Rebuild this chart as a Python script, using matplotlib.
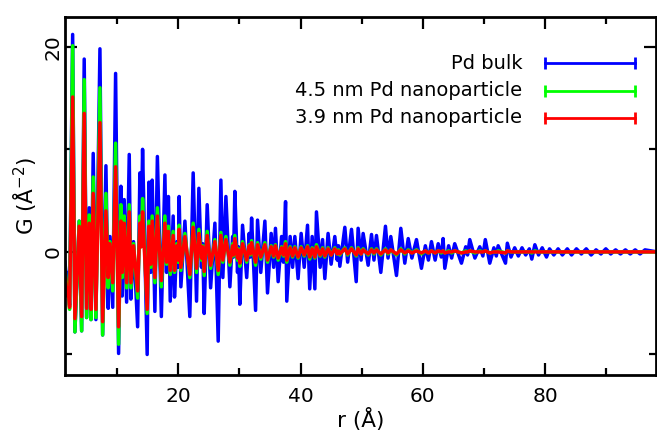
import matplotlib
matplotlib.use("Agg")
import matplotlib.pyplot as plt
from matplotlib.ticker import FixedLocator

# r positions (Å) of the read-off extrema, shared by the three curves
R = [
    1.50, 1.85, 2.00, 2.25, 2.75, 3.12, 3.82, 4.22, 4.64, 5.03,
    5.46, 5.75, 6.11, 6.55, 7.21, 7.65, 8.19, 8.56, 8.84, 9.30,
    9.77, 10.26, 10.64, 10.85, 11.18, 11.57, 12.00, 12.27, 12.70, 13.37,
    13.74, 13.95, 14.18, 14.93, 15.21, 15.50, 15.75, 16.19, 16.60, 17.25,
    17.83, 18.10, 18.40, 18.70, 19.18, 19.40, 19.80, 20.00, 20.16, 20.44,
    21.10, 21.90, 22.45, 23.00, 23.38, 23.80, 24.00, 24.25, 24.74, 25.30,
    26.00, 26.54, 26.98, 27.30, 27.80, 28.45, 28.90, 29.05, 29.26, 29.70,
    29.85, 30.08, 30.52, 31.20, 31.60, 31.80, 32.00, 32.65, 32.97, 33.50,
    34.17, 34.60, 35.20, 35.60, 35.90, 36.34, 36.90, 37.20, 37.55, 37.75,
    38.30, 38.70, 39.07, 39.60, 40.10, 40.60, 41.14, 41.50, 41.90, 42.34,
    42.60, 43.20, 43.60, 43.97, 44.50, 45.00, 45.60, 46.00, 46.20, 46.42,
    47.24, 47.70, 48.33, 49.10, 49.41, 49.90, 50.23, 51.05, 51.60, 52.00,
    52.41, 53.12, 53.88, 54.30, 54.75, 55.68, 56.39, 57.04, 57.60, 58.20,
    58.95, 59.76, 60.40, 60.90, 61.40, 62.00, 62.50, 63.00, 63.30, 63.58,
    64.20, 64.70, 65.20, 66.30, 67.00, 67.30, 67.66, 68.50, 69.30, 69.80,
    70.20, 70.93, 71.60, 72.00, 72.30, 73.50, 73.80, 74.40, 75.00, 75.60,
    76.20, 76.80, 77.40, 77.80, 78.30, 78.90, 79.50, 80.20, 80.70, 81.40,
    82.10, 82.80, 83.60, 84.30, 85.10, 85.90, 86.70, 87.50, 88.30, 89.10,
    89.90, 90.70, 91.50, 92.30, 93.10, 93.90, 94.70, 95.50, 96.30, 98.30,
]

G_BULK = [
    -1.0, -3.5, -2.0, -5.2, 21.2, -7.8, 3.0, -7.7, 18.8, -6.4,
    4.3, -6.6, 9.6, -6.6, 19.8, -8.1, 8.4, -5.5, 1.5, -5.4,
    17.4, -9.9, 6.4, -4.3, 5.1, -4.9, 9.5, -4.6, 1.0, -7.3,
    7.7, 1.5, 10.0, -10.0, 6.8, -2.0, 7.0, -5.8, 9.3, -6.3,
    7.5, -2.0, 5.4, -4.8, 3.5, -4.4, 1.0, -1.5, 5.4, -3.4,
    3.0, -6.3, 7.7, -4.8, 6.2, -1.5, 0.8, -6.0, 4.6, -3.5,
    2.8, -8.7, 7.0, -2.5, 5.4, -3.4, 1.5, -0.5, 5.9, -2.0,
    0.5, -5.1, 2.6, -2.5, 1.8, -0.5, 3.3, -5.7, 3.1, -2.0,
    3.0, -4.0, 1.8, -1.5, 2.3, -2.9, 1.5, -1.0, 4.9, -4.8,
    1.5, -1.5, 1.5, -2.6, 1.8, -1.5, 2.6, -3.6, 1.5, -3.6,
    3.9, -1.5, 1.2, -2.6, 1.8, -1.2, 1.5, -0.8, 0.6, -1.4,
    2.4, -1.0, 2.2, -2.9, 2.3, -0.8, 1.8, -1.3, 1.7, -0.8,
    1.6, -2.0, 2.5, -0.6, 1.5, -2.3, 2.3, -1.1, 1.3, -0.6,
    1.2, -1.6, 0.6, -0.8, 1.0, -0.8, 0.8, -0.5, 1.3, -1.6,
    0.6, -0.6, 0.8, -1.1, 0.5, -0.3, 1.2, -0.6, 0.5, -0.4,
    1.2, -1.1, 0.4, -0.4, 0.6, -1.1, 0.85, -0.5, 0.4, -0.4,
    0.4, -0.3, 0.3, -0.7, 0.7, -0.3, 0.4, -0.5, 0.3, -0.3,
    0.3, -0.3, 0.3, -0.3, 0.3, -0.2, 0.3, -0.3, 0.2, -0.2,
    0.3, -0.2, 0.2, -0.2, 0.2, -0.2, 0.2, -0.2, 0.2, 0.0,
]

G_45NM = [
    -1.5, -4.0, -3.0, -5.6, 20.1, -7.8, 3.0, -7.7, 16.8, -6.4,
    3.6, -6.6, 7.3, -6.4, 16.0, -8.1, 5.7, -3.5, 1.0, -3.8,
    10.6, -9.0, 4.6, -2.5, 3.5, -3.5, 4.6, -3.5, 0.8, -4.5,
    3.5, 0.5, 5.2, -6.0, 3.0, -1.5, 3.5, -3.0, 4.3, -3.4,
    3.5, -1.2, 2.5, -2.2, 2.0, -2.0, 0.8, -1.0, 2.6, -1.8,
    1.8, -2.5, 2.8, -2.0, 2.2, -0.8, 0.6, -2.3, 2.0, -1.6,
    1.2, -2.2, 1.9, -1.0, 1.5, -1.3, 0.8, -0.4, 1.6, -0.8,
    0.3, -1.4, 1.0, -1.0, 0.7, -0.3, 1.1, -1.3, 0.9, -0.7,
    0.9, -1.0, 0.6, -0.5, 0.7, -0.8, 0.5, -0.4, 1.0, -1.0,
    0.5, -0.5, 0.5, -0.6, 0.5, -0.4, 0.6, -0.7, 0.4, -0.6,
    0.7, -0.4, 0.4, -0.5, 0.4, -0.3, 0.4, -0.2, 0.2, -0.3,
    0.4, -0.3, 0.4, -0.4, 0.4, -0.2, 0.3, -0.3, 0.3, -0.2,
    0.3, -0.3, 0.3, -0.2, 0.2, -0.3, 0.3, -0.2, 0.2, -0.1,
    0.2, -0.2, 0.1, -0.1, 0.1, -0.1, 0.1, -0.1, 0.1, -0.1,
    0.1, -0.1, 0.1, -0.1, 0.1, 0.0, 0.1, -0.1, 0.1, 0.0,
    0.1, -0.1, 0.0, 0.0, 0.1, -0.1, 0.1, 0.0, 0.0, 0.0,
    0.0, 0.0, 0.0, -0.1, 0.1, 0.0, 0.0, 0.0, 0.0, 0.0,
    0.0, 0.0, 0.0, 0.0, 0.0, 0.0, 0.0, 0.0, 0.0, 0.0,
    0.0, 0.0, 0.0, 0.0, 0.0, 0.0, 0.0, 0.0, 0.0, 0.0,
]

G_39NM = [
    -2.0, -4.3, -3.5, -5.4, 15.1, -6.5, 2.5, -6.3, 13.5, -5.5,
    2.8, -5.6, 5.7, -5.6, 12.6, -6.8, 4.0, -2.5, 0.8, -3.0,
    8.3, -7.3, 3.0, -2.0, 2.8, -3.0, 3.9, -3.0, 0.6, -3.8,
    2.8, 0.5, 3.9, -5.6, 2.5, -1.2, 3.0, -2.5, 3.5, -2.8,
    2.8, -1.0, 2.0, -1.8, 1.6, -1.8, 0.6, -0.8, 2.2, -1.5,
    1.5, -2.2, 2.4, -1.6, 1.8, -0.6, 0.5, -1.9, 1.6, -1.3,
    1.0, -1.8, 1.6, -0.8, 1.2, -1.0, 0.6, -0.3, 1.3, -0.6,
    0.2, -1.1, 0.8, -0.8, 0.6, -0.2, 0.9, -1.0, 0.7, -0.5,
    0.7, -0.8, 0.5, -0.4, 0.6, -0.6, 0.4, -0.3, 0.8, -0.8,
    0.4, -0.4, 0.4, -0.5, 0.4, -0.3, 0.5, -0.5, 0.3, -0.5,
    0.5, -0.3, 0.3, -0.4, 0.3, -0.3, 0.3, -0.2, 0.1, -0.2,
    0.3, -0.2, 0.3, -0.3, 0.3, -0.2, 0.2, -0.2, 0.2, -0.1,
    0.2, -0.2, 0.2, -0.1, 0.2, -0.2, 0.2, -0.1, 0.1, -0.1,
    0.1, -0.1, 0.1, -0.1, 0.1, -0.1, 0.1, 0.0, 0.1, -0.1,
    0.0, 0.0, 0.1, -0.1, 0.0, 0.0, 0.1, 0.0, 0.0, 0.0,
    0.1, -0.1, 0.0, 0.0, 0.0, -0.1, 0.1, 0.0, 0.0, 0.0,
    0.0, 0.0, 0.0, 0.0, 0.0, 0.0, 0.0, 0.0, 0.0, 0.0,
    0.0, 0.0, 0.0, 0.0, 0.0, 0.0, 0.0, 0.0, 0.0, 0.0,
    0.0, 0.0, 0.0, 0.0, 0.0, 0.0, 0.0, 0.0, 0.0, 0.0,
]

LABELS = ["Pd bulk", "4.5 nm Pd nanoparticle", "3.9 nm Pd nanoparticle"]
COLORS = ["#0000ff", "#00ff00", "#ff0000"]
SERIES = [G_BULK, G_45NM, G_39NM]

X_MAJOR = [20, 40, 60, 80]
X_MINOR = [10, 30, 50, 70, 90]
Y_MAJOR = [0, 20]
Y_MINOR = [-10, 10]

plt.rcParams["font.family"] = ["DejaVu Sans"]

W, H = 657, 430
fig = plt.figure(figsize=(W / 100, H / 100), dpi=100)
ax = fig.add_axes([65 / W, 1 - 375 / H, (656 - 65) / W, (375 - 17) / H])

for g, c in zip(SERIES, COLORS):
    ax.plot(R, g, color=c, lw=2.5, solid_joinstyle="round")

ax.set_xlim(1.5, 98.1)
ax.set_ylim(-12.0, 22.9)

ax.xaxis.set_major_locator(FixedLocator(X_MAJOR))
ax.xaxis.set_minor_locator(FixedLocator(X_MINOR))
ax.yaxis.set_major_locator(FixedLocator(Y_MAJOR))
ax.yaxis.set_minor_locator(FixedLocator(Y_MINOR))

ax.tick_params(which="both", direction="in", top=True, right=True, width=1.6,
               color="black")
ax.tick_params(which="major", length=8.5)
ax.tick_params(which="minor", length=5)
ax.tick_params(axis="x", which="major", labelsize=14.5, pad=9)
ax.tick_params(axis="y", which="major", labelsize=14.5, pad=2, labelrotation=90)
for lab in ax.get_yticklabels():
    lab.set_verticalalignment("center")

for s in ax.spines.values():
    s.set_linewidth(2.0)

ax.set_xlabel("r (Å)", fontsize=15.5, labelpad=1)
ax.set_ylabel("G (Å$^{-2}$)", fontsize=15.5, labelpad=3)

# legend: right-aligned text with capped line segments
legend_y = [0.8715, 0.7933, 0.7179]
for lab, c, yy in zip(LABELS, COLORS, legend_y):
    ax.text(0.7736, yy, lab, transform=ax.transAxes, ha="right", va="center",
            fontsize=14)
    ax.plot([0.8125, 0.9645], [yy, yy], transform=ax.transAxes, color=c,
            lw=2.0, marker="|", markersize=8, markeredgewidth=2.0,
            clip_on=False)

fig.savefig("out.png", dpi=100)
